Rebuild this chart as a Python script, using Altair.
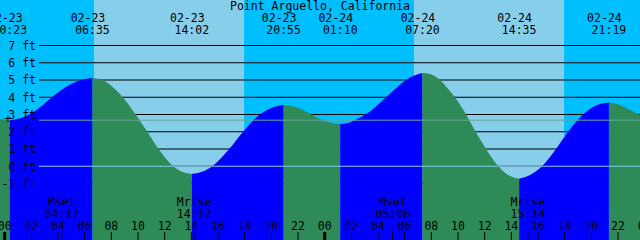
import altair as alt
import pandas as pd

# ---------------- data (hours since 02-23 00:00, feet) ----------------
tide_hours = [-0.35, 0.383, 1.15, 1.90, 2.65, 3.40, 4.15, 4.90, 5.72, 6.583,
              7.52, 8.20, 8.95, 9.90, 10.77, 11.60, 12.65, 13.37, 14.033,
              14.80, 15.62, 16.82, 17.80, 19.00, 19.90, 20.917,
              21.77, 22.52, 23.27, 24.02, 24.62, 25.167,
              25.90, 26.65, 27.40, 28.15, 28.90, 29.65, 30.40, 31.333,
              31.90, 32.65, 33.40, 33.77, 34.60, 35.32, 36.10, 37.02, 37.75, 38.583,
              39.40, 40.30, 41.35, 42.25, 43.37, 44.27, 45.317,
              46.15, 46.90, 47.65]
tide_feet = [2.74, 2.66, 2.78, 3.03, 3.42, 3.92, 4.36, 4.74, 5.00, 5.12,
             4.93, 4.52, 3.92, 2.92, 1.92, 0.94, -0.01, -0.34, -0.45,
             -0.32, 0.03, 0.98, 1.93, 2.92, 3.35, 3.55,
             3.45, 3.20, 2.88, 2.62, 2.50, 2.45,
             2.55, 2.82, 3.17, 3.68, 4.22, 4.73, 5.15, 5.41,
             5.35, 5.00, 4.35, 4.00, 3.00, 2.00, 1.00, 0.00, -0.50, -0.72,
             -0.50, 0.00, 1.00, 2.00, 3.00, 3.50, 3.70,
             3.55, 3.26, 2.97]
assert len(tide_hours) == len(tide_feet)

ext_hours = [0.383, 6.583, 14.033, 20.917, 25.167, 31.333, 38.583, 45.317]
ext_kind = ["low", "high", "low", "high", "low", "high", "low", "high"]
ext_date = ["02-23", "02-23", "02-23", "02-23", "02-24", "02-24", "02-24", "02-24"]
ext_time = ["00:23", "06:35", "14:02", "20:55", "01:10", "07:20", "14:35", "21:19"]

sunrise_hours = [6.70, 30.70]
sunset_hours = [17.95, 41.95]

moon_hours = [4.283, 14.2, 29.1, 39.233]
moon_event = ["Mset", "Mrise", "Mset", "Mrise"]
moon_time = ["04:17", "14:12", "05:06", "15:14"]

hour_ticks = [0, 2, 4, 6, 8, 10, 12, 14, 16, 18, 20, 22,
              24, 26, 28, 30, 32, 34, 36, 38, 40, 42, 44, 46, 48]
hour_labels = ["00", "02", "04", "06", "08", "10", "12", "14", "16", "18", "20", "22",
               "00", "02", "04", "06", "08", "10", "12", "14", "16", "18", "20", "22", "00"]
midnight_hours = [0, 24, 48]

feet_ticks = [7, 6, 5, 4, 3, 2, 1, 0, -1]
feet_labels = ["7 ft", "6 ft", "5 ft", "4 ft", "3 ft", "2 ft", "1 ft", "0 ft", "-1 ft"]
msl_feet = 2.67

title_text = "Point Arguello, California"

# ---------------- scales ----------------
X_DOMAIN = [-0.3525, 47.6475]
Y_DOMAIN = [-4.275, 9.638]
FONT = "DejaVu Sans Mono"
FS = 11.5

xs = alt.Scale(domain=X_DOMAIN, nice=False, zero=False)
ys = alt.Scale(domain=Y_DOMAIN, nice=False, zero=False)
cscale = alt.Scale(domain=["night", "day", "rise", "fall"],
                   range=["#00BFFF", "#87CEEB", "#0000FF", "#2E8B57"])

# ---------------- tables ----------------
edges = [X_DOMAIN[0]] + sorted(sunrise_hours + sunset_hours) + [X_DOMAIN[1]]
sky_rows = []
for i in range(len(edges) - 1):
    kind = "day" if edges[i] in sunrise_hours else "night"
    sky_rows.append({"start": edges[i], "end": edges[i + 1], "kind": kind})
sky_df = pd.DataFrame(sky_rows)

bounds = [-1e9] + ext_hours + [1e9]
tide_rows = []
for i in range(len(bounds) - 1):
    lo, hi = bounds[i], bounds[i + 1]
    kind = "rise" if (i < len(ext_kind) and ext_kind[i] == "high") else "fall"
    for h, f in zip(tide_hours, tide_feet):
        if lo - 1e-6 <= h <= hi + 1e-6:
            tide_rows.append({"h": h, "ft": f, "seg": i, "kind": kind})
tide_df = pd.DataFrame(tide_rows)

grid_df = pd.DataFrame({"ft": feet_ticks, "label": feet_labels})
ext_df = pd.DataFrame({"h": ext_hours, "date": ext_date, "time": ext_time})
moon_df = pd.DataFrame({"h": moon_hours, "event": moon_event, "time": moon_time})
hour_df = pd.DataFrame({"h": hour_ticks, "label": hour_labels})
mid_df = pd.DataFrame({"h": midnight_hours})

# ---------------- layers ----------------
sky = alt.Chart(sky_df).mark_rect().encode(
    x=alt.X("start:Q", scale=xs, axis=None), x2="end:Q",
    y=alt.value(0), y2=alt.value(240),
    color=alt.Color("kind:N", scale=cscale, legend=None))

grid = alt.Chart(grid_df).mark_rule(color="black", strokeWidth=1).encode(
    y=alt.Y("ft:Q", scale=ys, axis=None), x=alt.value(39), x2=alt.value(640))

tide = alt.Chart(tide_df).mark_area(interpolate="monotone").encode(
    x=alt.X("h:Q", scale=xs, axis=None),
    y=alt.Y("ft:Q", scale=ys, axis=None, stack=None),
    y2=alt.value(240),
    color=alt.Color("kind:N", scale=cscale, legend=None),
    detail="seg:N")

datum = alt.Chart(pd.DataFrame({"ft": [0]})).mark_rule(color="#87CEEB", strokeWidth=1).encode(
    y=alt.Y("ft:Q", scale=ys, axis=None), x=alt.value(39), x2=alt.value(640))

msl = alt.Chart(pd.DataFrame({"ft": [msl_feet]})).mark_rule(color="#62A898", strokeWidth=1).encode(
    y=alt.Y("ft:Q", scale=ys, axis=None), x=alt.value(39), x2=alt.value(640))

plus = alt.Chart(pd.DataFrame({"ft": [msl_feet], "t": ["+"]})).mark_text(
    font=FONT, fontSize=FS, align="center", baseline="middle", color="black").encode(
    y=alt.Y("ft:Q", scale=ys, axis=None), x=alt.value(8), text="t:N")

ylab = alt.Chart(grid_df).mark_text(
    font=FONT, fontSize=FS, align="right", baseline="alphabetic", dy=4.3, color="black").encode(
    y=alt.Y("ft:Q", scale=ys, axis=None), x=alt.value(36), text="label:N")

title = alt.Chart(pd.DataFrame({"t": [title_text]})).mark_text(
    font=FONT, fontSize=FS, align="center", baseline="alphabetic", color="black").encode(
    x=alt.value(320), y=alt.value(9.5), text="t:N")

date_lab = alt.Chart(ext_df).mark_text(
    font=FONT, fontSize=FS, align="center", baseline="alphabetic", dx=-4.5, color="black").encode(
    x=alt.X("h:Q", scale=xs, axis=None), y=alt.value(22), text="date:N")

time_lab = alt.Chart(ext_df).mark_text(
    font=FONT, fontSize=FS, align="center", baseline="alphabetic", color="black").encode(
    x=alt.X("h:Q", scale=xs, axis=None), y=alt.value(34), text="time:N")

moon_lab1 = alt.Chart(moon_df).mark_text(
    font=FONT, fontSize=FS, align="center", baseline="alphabetic", color="black").encode(
    x=alt.X("h:Q", scale=xs, axis=None), y=alt.value(206), text="event:N")

moon_lab2 = alt.Chart(moon_df).mark_text(
    font=FONT, fontSize=FS, align="center", baseline="alphabetic", color="black").encode(
    x=alt.X("h:Q", scale=xs, axis=None), y=alt.value(218), text="time:N")

hour_lab = alt.Chart(hour_df).mark_text(
    font=FONT, fontSize=FS, align="center", baseline="alphabetic", color="black").encode(
    x=alt.X("h:Q", scale=xs, axis=None), y=alt.value(230.3), text="label:N")

hour_tick = alt.Chart(hour_df).mark_rule(color="black", strokeWidth=1).encode(
    x=alt.X("h:Q", scale=xs, axis=None), y=alt.value(232), y2=alt.value(240))

mid_tick = alt.Chart(mid_df).mark_rule(color="black", strokeWidth=3).encode(
    x=alt.X("h:Q", scale=xs, axis=None), y=alt.value(232), y2=alt.value(240))

moon_tick = alt.Chart(moon_df).mark_rule(color="black", strokeWidth=1).encode(
    x=alt.X("h:Q", scale=xs, axis=None), y=alt.value(232), y2=alt.value(240))

chart = alt.layer(
    sky, grid, tide, datum, msl, plus, ylab, title, date_lab, time_lab,
    moon_lab1, moon_lab2, hour_lab, hour_tick, mid_tick, moon_tick
).properties(
    width=640, height=240,
    autosize=alt.AutoSizeParams(type="none"),
    padding=0,
    background="white",
).configure_view(stroke=None)

chart.save("out.html", embed_options={"renderer": "svg", "actions": False})
